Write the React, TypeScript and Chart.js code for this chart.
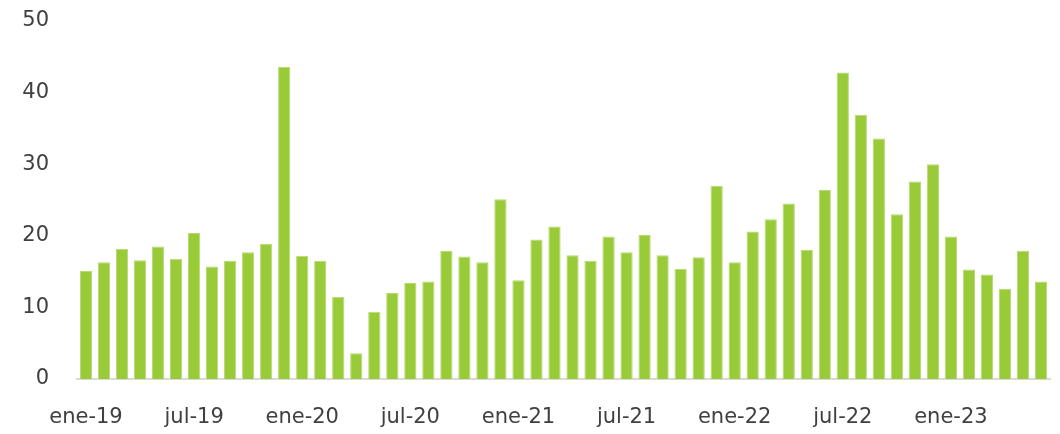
import React, { useEffect, useRef } from "react";
import { Chart, registerables } from "chart.js";

Chart.register(...registerables);

const months: string[] = ["ene", "feb", "mar", "abr", "may", "jun", "jul", "ago", "sep", "oct", "nov", "dic"];
const years: string[] = ["19", "20", "21", "22", "23"];
const categories: string[] = [];
for (const y of years) {
  for (const m of months) {
    categories.push(`${m}-${y}`);
  }
}
const labels: string[] = categories.slice(0, 54);

const values: number[] = [
  15.1, 16.3, 18.2, 16.6, 18.5, 16.8, 20.4, 15.7, 16.5, 17.7, 18.9, 43.6,
  17.2, 16.5, 11.5, 3.6, 9.4, 12.0, 13.4, 13.6, 17.9, 17.1, 16.3, 25.1,
  13.8, 19.5, 21.3, 17.3, 16.5, 19.9, 17.7, 20.1, 17.3, 15.4, 17.0, 27.0,
  16.3, 20.6, 22.3, 24.5, 18.0, 26.4, 42.8, 36.9, 33.6, 23.0, 27.6, 30.0,
  19.9, 15.3, 14.6, 12.6, 17.9, 13.6,
];

const yTicks: number[] = [0, 10, 20, 30, 40, 50];

export default function App() {
  const ref = useRef<HTMLCanvasElement | null>(null);

  useEffect(() => {
    document.body.style.margin = "0";
    if (!ref.current) return;
    const font = { family: "DejaVu Sans", size: 21 };
    const chart = new Chart(ref.current, {
      type: "bar",
      data: {
        labels,
        datasets: [
          {
            data: values,
            backgroundColor: "#99CA38",
            borderColor: "#B5DA72",
            borderWidth: 1,
            categoryPercentage: 1,
            barPercentage: 0.68,
          },
        ],
      },
      options: {
        animation: false,
        responsive: false,
        maintainAspectRatio: false,
        layout: { padding: { top: 21, right: 10, left: 0, bottom: 0 } },
        plugins: { legend: { display: false }, tooltip: { enabled: false } },
        scales: {
          x: {
            grid: { display: false, drawTicks: false },
            border: { display: true, color: "#D9D9D9", width: 2 },
            ticks: {
              autoSkip: false,
              maxRotation: 0,
              minRotation: 0,
              padding: 26,
              color: "#404040",
              font,
              callback: (_v: any, i: number) => (i % 6 === 0 ? labels[i] : ""),
            },
            afterFit: (s: any) => {
              s.height = 55;
              s.paddingRight = 0;
              s.paddingLeft = 0;
            },
          },
          y: {
            min: 0,
            max: 50,
            afterBuildTicks: (s: any) => {
              s.ticks = yTicks.map((v) => ({ value: v }));
            },
            grid: { display: false, drawTicks: false },
            border: { display: false },
            ticks: { padding: 28, color: "#404040", font },
            afterFit: (s: any) => {
              s.width = 77;
              s.paddingTop = 0;
              s.paddingBottom = 0;
            },
          },
        },
      },
    });
    return () => chart.destroy();
  }, []);

  return (
    <div style={{ width: 1060, height: 434 }}>
      <canvas ref={ref} width={1060} height={434} />
    </div>
  );
}
